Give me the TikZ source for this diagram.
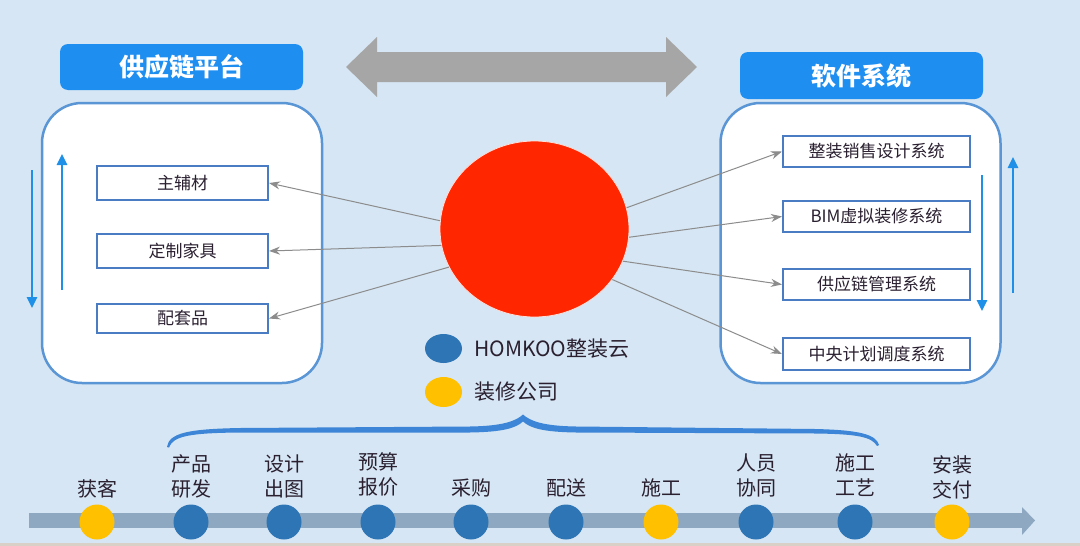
\documentclass[tikz,border=0pt]{standalone}
\usepackage{fontspec}
\newfontfamily\cjk{Noto Sans CJK SC}
\usetikzlibrary{shapes.geometric,arrows.meta}
\definecolor{bg}{HTML}{D6E6F4}
\definecolor{strip}{HTML}{D9D0C8}
\definecolor{titleblue}{HTML}{1E8EF0}
\definecolor{bigborder}{HTML}{5A95D5}
\definecolor{itemborder}{HTML}{4A7CC4}
\definecolor{arrowblue}{HTML}{1E90E8}
\definecolor{dblgray}{HTML}{A6A6A6}
\definecolor{hubred}{HTML}{FF2600}
\definecolor{linegray}{HTML}{8C8C8C}
\definecolor{dotblue}{HTML}{2E75B6}
\definecolor{dotyellow}{HTML}{FFC000}
\definecolor{barcol}{HTML}{8DA8C0}
\definecolor{bracecol}{HTML}{3D85D6}
\definecolor{txt}{HTML}{2A2030}
\tikzset{
  titlebox/.style={fill=titleblue, rounded corners=8pt, inner sep=0pt, text=white,
    font=\cjk\bfseries\fontsize{25}{30}\selectfont},
  bigbox/.style={draw=bigborder, line width=2.5pt, fill=white, rounded corners=40pt, inner sep=0pt,
    minimum width=280pt, minimum height=280pt},
  itembox/.style={draw=itemborder, line width=2pt, fill=white, inner sep=0pt, text=txt,
    font=\cjk\fontsize{17}{20}\selectfont},
  barrow/.style={draw=arrowblue, line width=2.5pt, -{Triangle[length=11pt,width=10pt]}},
  gline/.style={draw=linegray, line width=1pt, -{Stealth[length=11pt,width=8pt]}},
  dotb/.style={circle, fill=dotblue, minimum size=35pt, inner sep=0pt},
  doty/.style={circle, fill=dotyellow, minimum size=35pt, inner sep=0pt},
  tlabel/.style={text=txt, align=center, inner sep=0pt, font=\cjk\fontsize{20}{25}\selectfont},
  legtext/.style={text=txt, anchor=west, inner sep=0pt, font=\cjk\fontsize{21}{25}\selectfont},
}
\begin{document}
\begin{tikzpicture}[x=1pt,y=-1pt]
\useasboundingbox (0,0) rectangle (1080,546);
\fill[bg] (0,0) rectangle (1080,546);
\fill[strip] (0,543) rectangle (1080,546);

% gray double arrow
\fill[dblgray] (346,67) -- (377,37) -- (377,52) -- (666,52) -- (666,37) -- (697,67)
  -- (666,97) -- (666,82) -- (377,82) -- (377,97) -- cycle;

% title boxes
\node[titlebox, minimum width=243pt, minimum height=46pt] (lt) at (181.5,67) {供应链平台};
\node[titlebox, minimum width=243pt, minimum height=47pt] (rt) at (861.5,75.5) {软件系统};

% big boxes
\node[bigbox] (lb) at (182,243) {};
\node[bigbox] (rb) at (860.5,243) {};

% left items
\node[itembox, minimum width=171pt, minimum height=34pt] (l1) at (182.5,183) {主辅材};
\node[itembox, minimum width=171pt, minimum height=34pt] (l2) at (182.5,251) {定制家具};
\node[itembox, minimum width=171pt, minimum height=29pt] (l3) at (182.5,318.5) {配套品};

% right items
\node[itembox, minimum width=187pt, minimum height=31pt] (r1) at (876.5,151.5) {整装销售设计系统};
\node[itembox, minimum width=187pt, minimum height=31pt] (r2) at (876.5,216.5) {BIM虚拟装修系统};
\node[itembox, minimum width=187pt, minimum height=31pt] (r3) at (876.5,284.5) {供应链管理系统};
\node[itembox, minimum width=187pt, minimum height=32pt] (r4) at (876.5,354) {中央计划调度系统};

% blue vertical arrows
\coordinate (la1) at (32,170); \coordinate (la2) at (32,308);
\coordinate (lb1) at (62,290); \coordinate (lb2) at (62,154);
\draw[barrow] (la1) -- (la2);
\draw[barrow] (lb1) -- (lb2);
\coordinate (ra1) at (982,175); \coordinate (ra2) at (982,311);
\coordinate (rb1) at (1013,293); \coordinate (rb2) at (1013,157);
\draw[barrow] (ra1) -- (ra2);
\draw[barrow] (rb1) -- (rb2);

% hub
\node[ellipse, fill=hubred, draw=white!85!hubred, line width=0.8pt, minimum width=189pt,
  minimum height=176pt, inner sep=0pt] (hub) at (534.5,229) {};

% connectors
\draw[gline] (hub.175) -- (l1.east);
\draw[gline] (hub.190) -- (l2.east);
\draw[gline] (hub.204) -- (l3.east);
\draw[gline] (hub.13) -- (r1.west);
\draw[gline] (hub.-5) -- (r2.west);
\draw[gline] (hub.-20) -- (r3.west);
\draw[gline] (hub.-33) -- (r4.west);

% legend
\node[ellipse, fill=dotblue, minimum width=37pt, minimum height=29pt, inner sep=0pt] (legb) at (443.5,348.5) {};
\node[legtext] (legbt) at (474,349) {HOMKOO整装云};
\node[ellipse, fill=dotyellow, minimum width=37pt, minimum height=30pt, inner sep=0pt] (legy) at (443.5,392) {};
\node[legtext] (legyt) at (474,392) {装修公司};

% brace (tapered)
\fill[bracecol]
  (167,447) .. controls (169,433) and (188,429) .. (240,428)
  -- (470,426.5) .. controls (503,426) and (516,421) .. (523,414.5)
  .. controls (530,421) and (543,426) .. (576,426.5)
  -- (815,429) .. controls (858,430) and (876,434) .. (879,445)
  -- (877,446) .. controls (872,437) and (858,434) .. (815,433.5)
  -- (576,432.5) .. controls (543,432) and (530,428) .. (523,421.5)
  .. controls (516,428) and (503,432) .. (470,432.5)
  -- (240,432.5) .. controls (190,433) and (173,436) .. (169,447.5) -- cycle;

% timeline bar
\fill[barcol] (29,513) rectangle (1022,528);
\fill[barcol] (1022,507) -- (1035,520.5) -- (1022,535) -- cycle;

% dots
\node[doty] (d1) at (97,522) {};
\node[dotb] (d2) at (191,522) {};
\node[dotb] (d3) at (284,522) {};
\node[dotb] (d4) at (378,522) {};
\node[dotb] (d5) at (471,522) {};
\node[dotb] (d6) at (566,522) {};
\node[doty] (d7) at (661,522) {};
\node[dotb] (d8) at (756,522) {};
\node[dotb] (d9) at (855,522) {};
\node[doty] (d10) at (952,522) {};

% labels
\node[tlabel] (t1) at (97,489) {获客};
\node[tlabel] (t2) at (191,476.5) {产品\\研发};
\node[tlabel] (t3) at (284,476.5) {设计\\出图};
\node[tlabel] (t4) at (378,474.5) {预算\\报价};
\node[tlabel] (t5) at (471,488) {采购};
\node[tlabel] (t6) at (566,488) {配送};
\node[tlabel] (t7) at (661,488) {施工};
\node[tlabel] (t8) at (756,475.5) {人员\\协同};
\node[tlabel] (t9) at (855,475.5) {施工\\工艺};
\node[tlabel] (t10) at (952,477.5) {安装\\交付};
\end{tikzpicture}
\end{document}
